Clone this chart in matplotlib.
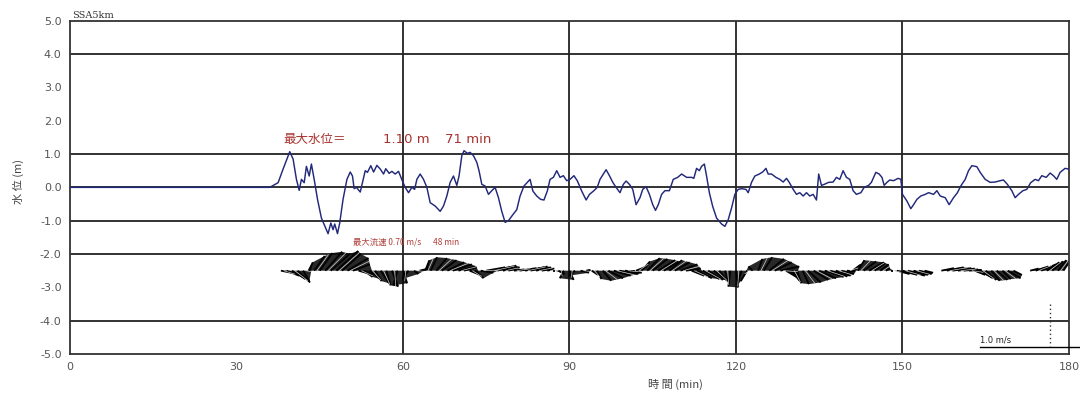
import numpy as np
import matplotlib
matplotlib.use("Agg")
import matplotlib.pyplot as plt
from matplotlib.collections import LineCollection, PolyCollection

plt.rcParams['font.family'] = ['Noto Sans CJK JP', 'DejaVu Sans']

# ---- water level record (min, m) ----
time_min = [0, 36.0, 37.5, 38.4, 39.6, 40.2, 40.8, 41.3, 41.7, 42.2, 42.6, 43.1, 43.5, 44.0,
            44.6, 45.3, 46.2, 46.5, 47.0, 47.4, 47.7, 48.2, 48.6, 49.2, 49.9, 50.5, 50.9,
            51.2, 51.6, 52.3, 52.7, 53.2, 53.6, 54.2, 54.7, 55.3, 55.9, 56.5, 56.9, 57.5,
            58.0, 58.6, 59.2, 59.9, 60.4, 61.0, 61.6, 62.1, 62.5, 63.1, 63.7, 64.3, 64.9,
            65.8, 66.7, 67.3, 67.9, 68.5, 69.1, 69.7, 70.1, 70.6, 71.0, 71.6, 72.1, 72.7,
            73.3, 73.7, 74.2, 74.8, 75.4, 76.0, 76.6, 77.2, 77.8, 78.4, 79.0, 79.8, 80.5,
            81.1, 81.8, 82.4, 82.9, 83.4, 84.1, 84.8, 85.4, 86.0, 86.5, 87.1, 87.7, 88.3,
            88.9, 89.5, 90.1, 90.8, 91.4, 92.2, 93.0, 93.6, 94.4, 95.0, 95.5, 96.1, 96.6,
            97.2, 97.8, 98.4, 99.1, 99.7, 100.2, 100.8, 101.4, 102.0, 102.7, 103.2, 103.8,
            104.4, 105.0, 105.5, 106.0, 106.6, 107.2, 108.0, 108.7, 109.5, 110.2, 111.1,
            112.0, 112.4, 112.9, 113.4, 113.8, 114.3, 114.7, 115.2, 115.8, 116.5, 117.4,
            118.0, 118.6, 119.2, 119.8, 120.4, 121.0, 121.8, 122.2, 122.8, 123.4, 124.2,
            124.8, 125.4, 125.8, 126.4, 127.2, 127.9, 128.5, 129.1, 129.6, 130.3, 130.9,
            131.5, 132.1, 132.7, 133.3, 133.9, 134.5, 134.9, 135.4, 135.9, 136.7, 137.5,
            138.1, 138.7, 139.3, 139.9, 140.5, 141.1, 141.7, 142.5, 143.1, 143.9, 144.4,
            145.2, 145.8, 146.3, 146.7, 147.2, 147.7, 148.4, 149.2, 149.7, 150.0, 150.8,
            151.5, 152.0, 152.6, 153.3, 154.1, 154.7, 155.6, 156.2, 156.8, 157.7, 158.4,
            159.2, 159.9, 160.5, 161.3, 161.9, 162.5, 163.4, 164.0, 164.9, 165.8, 166.7,
            167.6, 168.2, 168.9, 169.7, 170.3, 170.9, 171.7, 172.4, 173.1, 173.9, 174.5,
            175.1, 175.9, 176.6, 177.2, 177.8, 178.4, 179.3, 179.9]
level_m = [0, 0, 0.14, 0.55, 1.07, 0.85, 0.24, -0.09, 0.24, 0.14, 0.63, 0.34, 0.70, 0.24,
           -0.36, -0.92, -1.27, -1.39, -1.07, -1.27, -1.10, -1.39, -1.07, -0.36, 0.24, 0.46, 0.34,
           -0.04, 0.00, -0.14, 0.15, 0.50, 0.45, 0.65, 0.46, 0.66, 0.55, 0.40, 0.56, 0.42,
           0.48, 0.40, 0.48, 0.19, 0.00, -0.16, 0.00, -0.06, 0.24, 0.40, 0.24, 0.00, -0.46,
           -0.56, -0.72, -0.56, -0.26, 0.15, 0.34, 0.06, 0.34, 0.95, 1.10, 1.02, 1.05, 0.95,
           0.75, 0.50, 0.09, 0.04, -0.21, -0.10, 0.00, -0.31, -0.72, -1.05, -1.00, -0.82, -0.67,
           -0.26, 0.04, 0.15, 0.24, -0.11, -0.26, -0.36, -0.38, -0.11, 0.24, 0.30, 0.50, 0.30,
           0.35, 0.20, 0.24, 0.35, 0.20, -0.11, -0.38, -0.21, -0.10, 0.00, 0.24, 0.40, 0.53,
           0.35, 0.15, 0.00, -0.16, 0.09, 0.19, 0.09, -0.06, -0.52, -0.31, -0.06, 0.02,
           -0.21, -0.52, -0.69, -0.52, -0.21, -0.10, -0.10, 0.24, 0.30, 0.40, 0.30,
           0.30, 0.27, 0.57, 0.50, 0.63, 0.70, 0.34, -0.16, -0.57, -0.92, -1.10,
           -1.17, -0.97, -0.62, -0.21, -0.06, -0.04, -0.06, -0.16, 0.15, 0.34, 0.40,
           0.46, 0.57, 0.40, 0.40, 0.30, 0.24, 0.16, 0.27, 0.15, -0.06, -0.21,
           -0.16, -0.26, -0.16, -0.26, -0.21, -0.38, 0.40, 0.06, 0.09, 0.15, 0.16,
           0.30, 0.24, 0.50, 0.30, 0.24, -0.10, -0.21, -0.16, 0.00, 0.06, 0.15,
           0.45, 0.40, 0.30, 0.06, 0.15, 0.22, 0.20, 0.27, 0.24, -0.21, -0.41,
           -0.64, -0.52, -0.36, -0.26, -0.21, -0.16, -0.21, -0.10, -0.26, -0.31, -0.52,
           -0.31, -0.16, 0.04, 0.24, 0.50, 0.65, 0.62, 0.45, 0.24, 0.15, 0.16,
           0.20, 0.22, 0.09, -0.10, -0.31, -0.21, -0.10, -0.06, 0.14, 0.24, 0.20,
           0.35, 0.30, 0.43, 0.35, 0.24, 0.45, 0.57, 0.55]

# ---- current vectors, one per minute from 38 min (m/s) ----
vel_start = 38
vel_u = [0.25, 0.30, 0.32, 0.30, 0.15, 0.10, 0.25, 0.30, 0.40, 0.45, 0.52, 0.45, 0.50, 0.40,
         0.35, 0.20, 0.25, 0.15, 0.20, 0.10, 0.15, -0.10, 0.10, -0.15, 0.10, 0.20, 0.10, 0.15,
         0.25, 0.35, 0.40, 0.45, 0.40, 0.30, 0.25, 0.20, 0.30, 0.45, 0.50, 0.45, 0.40, 0.20,
         0.25, 0.40, 0.45, 0.40, 0.35, 0.30, 0.10, 0.05, 0.15, -0.10, 0.10, -0.15, 0.20, 0.10,
         0.15, 0.10, 0.20, 0.35, 0.40, 0.45, 0.40, 0.10, 0.25, 0.20, 0.30, 0.35, 0.40, 0.35,
         0.30, 0.35, 0.40, 0.35, 0.30, 0.35, 0.40, 0.35, 0.30, 0.20, 0.10, -0.05, 0.05, -0.10,
         -0.15, -0.10, 0.10, 0.20, 0.35, 0.40, 0.45, 0.25, 0.20, 0.10, 0.15, 0.30, 0.35, 0.40,
         0.45, 0.40, 0.35, 0.30, 0.20, 0.20, 0.15, 0.30, 0.35, 0.25, 0.20, 0.10, 0.05, 0.30,
         0.35, 0.40, 0.35, 0.30, 0.20, 0.00, 0.00, 0.30, 0.40, 0.45, 0.40, 0.35, 0.30, 0.25,
         0.30, 0.25, 0.20, 0.25, 0.20, 0.30, 0.20, 0.00, 0.00, 0.20, 0.30, 0.35, 0.30, 0.25,
         0.20, 0.15]
vel_v = [-0.05, -0.12, -0.20, -0.28, -0.25, 0.20, 0.35, 0.42, 0.45, 0.40, 0.47, 0.40, 0.30,
         0.15, -0.10, -0.15, -0.20, -0.25, -0.30, -0.35, -0.38, -0.35, -0.30, -0.20, -0.08,
         0.05, 0.25, 0.32, 0.30, 0.25, 0.20, 0.15, 0.10, 0.08, -0.10, -0.18, -0.05, 0.08, 0.10,
         0.12, 0.08, 0.05, 0.03, 0.06, 0.08, 0.10, 0.08, 0.05, 0.02, 0.00, -0.08, -0.18, -0.22,
         -0.12, -0.05, 0.02, -0.10, -0.20, -0.24, -0.18, -0.12, -0.08, -0.05, 0.00, 0.10, 0.22,
         0.30, 0.28, 0.25, 0.22, 0.25, 0.20, 0.15, 0.05, -0.12, -0.18, -0.20, -0.22, -0.22,
         -0.25, -0.30, -0.38, -0.40, -0.35, -0.25, 0.10, 0.28, 0.32, 0.28, 0.20, 0.10, -0.15,
         -0.25, -0.30, -0.32, -0.28, -0.22, -0.18, -0.15, -0.14, -0.12, -0.08, -0.02, 0.15,
         0.25, 0.22, 0.20, 0.18, 0.15, 0.05, 0.00, -0.08, -0.10, -0.12, -0.10, -0.08, -0.05,
         0.00, 0.00, 0.06, 0.08, 0.06, 0.05, 0.03, 0.02, -0.10, -0.18, -0.22, -0.24, -0.22,
         -0.20, -0.18, -0.10, 0.00, 0.00, 0.05, 0.10, 0.15, 0.20, 0.22, 0.25, 0.22]

x_ticks = [0, 30, 60, 90, 120, 150, 180]
y_ticks = [5, 4, 3, 2, 1, 0, -1, -2, -3, -4, -5]
y_tick_labels = ["5.0", "4.0", "3.0", "2.0", "1.0", "0.0", "-1.0", "-2.0", "-3.0", "-4.0", "-5.0"]
grid_y = [4, 1, 0, -1, -2, -4]
grid_x = [60, 90, 120, 150]

max_level, max_level_time = 1.10, 71
max_speed, max_speed_time = 0.70, 48
ref_speed = 1.0

# ---- figure ----
fig = plt.figure(figsize=(10.8, 4.08), dpi=100)
ax = fig.add_axes([0.0648, 0.1324, 0.9250, 0.8168])
ax.set_xlim(0, 180)
ax.set_ylim(-5, 5)

for g in grid_y:
    ax.axhline(g, color='#222222', lw=1.3, zorder=1)
for g in grid_x:
    ax.axvline(g, color='#222222', lw=1.3, zorder=1)
for s in ax.spines.values():
    s.set_color('#333333')
    s.set_linewidth(1.3)

ax.set_xticks(x_ticks)
ax.set_xticklabels([str(v) for v in x_ticks], family='DejaVu Sans', fontsize=8, color='#555555')
ax.set_yticks(y_ticks)
ax.set_yticklabels(y_tick_labels, family='DejaVu Sans', fontsize=8, color='#555555')
ax.tick_params(length=0, pad=6)

# water level
ax.plot(time_min, level_m, color='#23297a', lw=1.05, zorder=3)

# current vector sticks around a base line
base = -2.5
px_per_ms = 42.0
ax_w_px = 0.9250 * 1080
ax_h_px = 0.8168 * 408
sx = px_per_ms * 180.0 / ax_w_px
sy = px_per_ms * 10.0 / ax_h_px
vt = np.arange(len(vel_u)) + vel_start
u = np.array(vel_u)
v = np.array(vel_v)
tips_x = vt + u * sx
tips_y = base + v * sy
quads = []
for i in range(len(vt) - 1):
    if (u[i] == 0 and v[i] == 0) or (u[i + 1] == 0 and v[i + 1] == 0):
        continue
    quads.append([(vt[i], base), (tips_x[i], tips_y[i]),
                  (tips_x[i + 1], tips_y[i + 1]), (vt[i + 1], base)])
ax.add_collection(PolyCollection(quads, facecolor='#0a0a0a', edgecolor='none',
                                 alpha=0.88, zorder=2))
segs = [[(vt[i], base), (tips_x[i], tips_y[i])] for i in range(len(vt))
        if not (u[i] == 0 and v[i] == 0)]
ax.add_collection(LineCollection(segs, colors='black', linewidths=1.3, zorder=2))
# thin light streaks between the sticks give the hatched texture
mid = [[(vt[i] + 0.5, base), (0.5 * (tips_x[i] + tips_x[i + 1]), 0.5 * (tips_y[i] + tips_y[i + 1]))]
       for i in range(0, len(vt) - 1, 2)
       if not ((u[i] == 0 and v[i] == 0) or (u[i + 1] == 0 and v[i + 1] == 0))]
ax.add_collection(LineCollection(mid, colors='white', linewidths=0.5, alpha=0.8, zorder=2))

# scale reference
ax.plot([164, 181.8], [-4.8, -4.8], color='black', lw=1.0, clip_on=False, zorder=4)
ax.text(164, -4.72, f"{ref_speed:.1f} m/s", fontsize=6, family='DejaVu Sans',
        va='bottom', ha='left', color='#222222')
ax.plot([176.6, 176.6], [-3.5, -4.75], color='#333333', lw=1.0, ls=(0, (1, 2)),
        clip_on=False, zorder=4)

# annotations
ann_color = '#a8322d'
ax.text(38.5, 1.45, "最大水位＝", color=ann_color, fontsize=9, va='center', ha='left')
ax.text(56.4, 1.45, f"{max_level:.2f} m", color=ann_color, fontsize=9.5,
        va='center', ha='left', family='DejaVu Sans')
ax.text(67.6, 1.45, f"{max_level_time} min", color=ann_color, fontsize=9.5,
        va='center', ha='left', family='DejaVu Sans')
ax.text(51, -1.65, f"最大流速 {max_speed:.2f} m/s", color='#b0403a', fontsize=6,
        va='center', ha='left')
ax.text(65.4, -1.65, f"{max_speed_time} min", color='#b0403a', fontsize=6,
        va='center', ha='left')

fig.text(72 / 1080, 1 - 16 / 408, "SSA5km", fontsize=7, family='DejaVu Serif',
         color='#333333', va='center', ha='left')
fig.text(18 / 1080, 1 - 181 / 408, "水 位 (m)", rotation=90, fontsize=8,
         color='#444444', va='center', ha='center')
fig.text(675 / 1080, 1 - 384 / 408, "時 間 (min)", fontsize=8,
         color='#444444', va='center', ha='center')

fig.savefig("out.png", dpi=100)
